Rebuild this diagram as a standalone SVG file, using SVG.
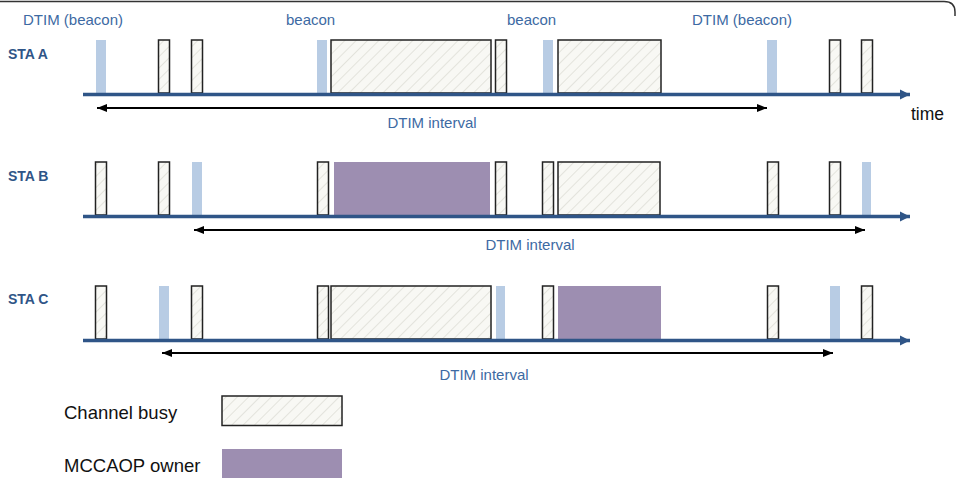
<svg xmlns="http://www.w3.org/2000/svg" width="957" height="480" viewBox="0 0 957 480">
<defs>
<pattern id="hatch" patternUnits="userSpaceOnUse" width="8" height="8" patternTransform="rotate(45)">
<rect width="8" height="8" fill="#f8f8f4"/>
<line x1="0" y1="0" x2="0" y2="8" stroke="#dcdcd5" stroke-width="1.5"/>
</pattern>
<marker id="ax" markerUnits="userSpaceOnUse" markerWidth="12" markerHeight="12" refX="10" refY="6" orient="auto">
<path d="M0,1 L10,6 L0,11 Z" fill="#2f5587"/>
</marker>
<marker id="ar" markerUnits="userSpaceOnUse" markerWidth="12" markerHeight="10" refX="10" refY="5" orient="auto-start-reverse">
<path d="M0,1 L10,5 L0,9 Z" fill="#000"/>
</marker>
<style>
.h{fill:url(#hatch);stroke:#222;stroke-width:1.5}
.b{fill:#b8cce4}
.p{fill:#9d8eb1}
.sta{font-family:"Liberation Sans",Arial,sans-serif;font-weight:bold;font-size:14px;fill:#2f5587}
.lb{font-family:"Liberation Sans",Arial,sans-serif;font-size:15px;fill:#3d6aa3}
.lg{font-family:"Liberation Sans",Arial,sans-serif;font-size:18.5px;fill:#111}
.axis{stroke:#2f5587;stroke-width:3.5;fill:none}
.iv{stroke:#000;stroke-width:2;fill:none}
</style>
</defs>
<rect width="957" height="480" fill="#fff"/>
<path d="M0,1.5 H944 Q955,1.5 955,12 V16" fill="none" stroke="#333" stroke-width="1.5"/>

<g id="labels-top">
<text class="lb" x="23" y="25">DTIM (beacon)</text>
<text class="lb" x="286" y="25">beacon</text>
<text class="lb" x="507" y="25">beacon</text>
<text class="lb" x="692" y="25">DTIM (beacon)</text>
<text class="lg" x="911" y="120" style="font-size:17.5px">time</text>
</g>

<g id="sta-a">
<text class="sta" x="8" y="59">STA A</text>
<rect class="b" x="96" y="40" width="10" height="54"/>
<rect class="h" x="158.5" y="40" width="11" height="53"/>
<rect class="h" x="191.5" y="40" width="11" height="53"/>
<rect class="b" x="317" y="40" width="10" height="54"/>
<rect class="h" x="331" y="40" width="160" height="53"/>
<rect class="h" x="495.5" y="40" width="11" height="53"/>
<rect class="b" x="543" y="40" width="10" height="54"/>
<rect class="h" x="558" y="40" width="103" height="53"/>
<rect class="b" x="767" y="40" width="10" height="54"/>
<rect class="h" x="829.5" y="40" width="11" height="53"/>
<rect class="h" x="861.5" y="40" width="11" height="53"/>
<text class="lb" x="432" y="128" text-anchor="middle">DTIM interval</text>
</g>

<g id="sta-b">
<text class="sta" x="8" y="181">STA B</text>
<rect class="h" x="95.5" y="162" width="11" height="53"/>
<rect class="h" x="158.5" y="162" width="11" height="53"/>
<rect class="b" x="192" y="162" width="10" height="54"/>
<rect class="h" x="317.5" y="162" width="11" height="53"/>
<rect class="p" x="334" y="162" width="156" height="54"/>
<rect class="h" x="495.5" y="162" width="11" height="53"/>
<rect class="h" x="542.5" y="162" width="11" height="53"/>
<rect class="h" x="558" y="162" width="102" height="53"/>
<rect class="h" x="767.5" y="162" width="11" height="53"/>
<rect class="h" x="829.5" y="162" width="11" height="53"/>
<rect class="b" x="862" y="162" width="9" height="54"/>
<text class="lb" x="530" y="250" text-anchor="middle">DTIM interval</text>
</g>

<g id="sta-c">
<text class="sta" x="8" y="304">STA C</text>
<rect class="h" x="95.5" y="286" width="11" height="53"/>
<rect class="b" x="159" y="286" width="10" height="54"/>
<rect class="h" x="191.5" y="286" width="11" height="53"/>
<rect class="h" x="317.5" y="286" width="11" height="53"/>
<rect class="h" x="331" y="286" width="160" height="53"/>
<rect class="b" x="496" y="286" width="9" height="54"/>
<rect class="h" x="542.5" y="286" width="11" height="53"/>
<rect class="p" x="558" y="286" width="103" height="54"/>
<rect class="h" x="767.5" y="286" width="11" height="53"/>
<rect class="b" x="830" y="286" width="10" height="54"/>
<rect class="h" x="861.5" y="286" width="11" height="53"/>
<text class="lb" x="484" y="380" text-anchor="middle">DTIM interval</text>
</g>

<g id="connectors">
<line class="axis" x1="83" y1="94.5" x2="910" y2="94.5" marker-end="url(#ax)"/>
<line class="axis" x1="83" y1="216.5" x2="910" y2="216.5" marker-end="url(#ax)"/>
<line class="axis" x1="83" y1="340.5" x2="910" y2="340.5" marker-end="url(#ax)"/>
<line class="iv" x1="97" y1="108" x2="767" y2="108" marker-start="url(#ar)" marker-end="url(#ar)"/>
<line class="iv" x1="194" y1="230" x2="865" y2="230" marker-start="url(#ar)" marker-end="url(#ar)"/>
<line class="iv" x1="162" y1="353" x2="833" y2="353" marker-start="url(#ar)" marker-end="url(#ar)"/>
</g>

<g id="legend">
<text class="lg" x="64" y="419">Channel busy</text>
<rect class="h" x="222" y="396" width="120" height="29.5"/>
<text class="lg" x="64" y="472">MCCAOP owner</text>
<rect class="p" x="222" y="449" width="120" height="29"/>
</g>
</svg>
